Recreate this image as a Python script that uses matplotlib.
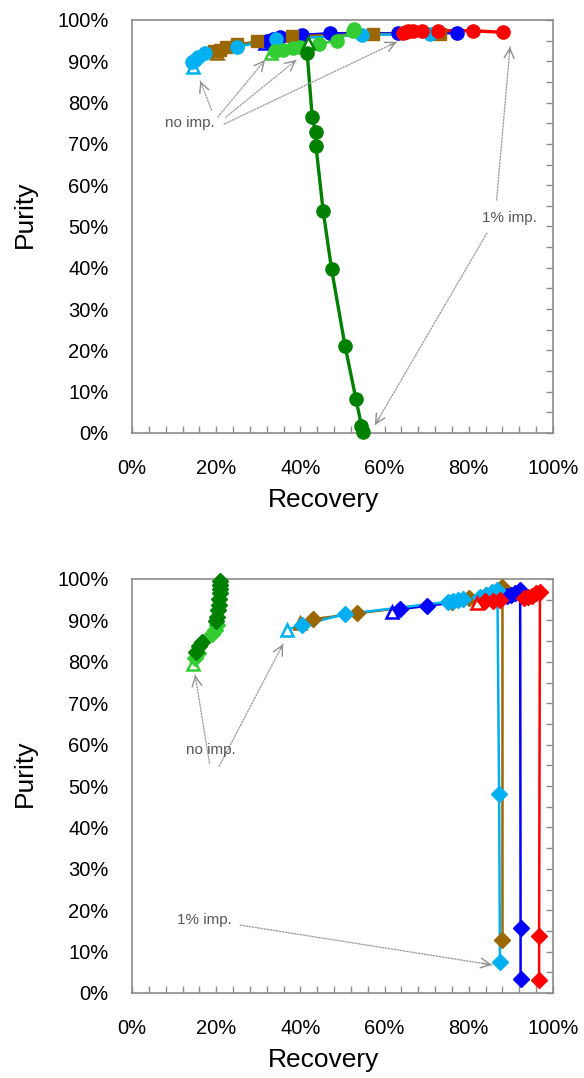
import matplotlib
matplotlib.use("Agg")
import matplotlib.pyplot as plt
from matplotlib.ticker import MultipleLocator, FuncFormatter

plt.rcParams['font.family'] = ['Liberation Sans', 'DejaVu Sans']

# ---------------- Top chart (circles / squares) ----------------
top_blue_tri = (31.6, 94.4)
top_blue_x = [32.0, 33.5, 35.2, 38.0, 40.3, 47.0, 63.3, 77.1]
top_blue_y = [95.0, 95.3, 95.8, 96.0, 96.4, 96.8, 96.8, 96.8]

top_brown_tri = (20.1, 91.9)
top_brown_x = [19.5, 21.0, 22.3, 25.0, 29.7, 37.9, 57.3, 73.2]
top_brown_y = [92.4, 92.8, 93.5, 94.1, 94.8, 96.1, 96.6, 96.6]

top_lblue_tri = (14.6, 88.6)
top_lblue_x = [14.3, 15.0, 15.7, 17.3, 24.9, 34.2, 54.6, 70.8]
top_lblue_y = [89.9, 90.4, 91.1, 91.9, 93.5, 95.3, 96.4, 96.6]

top_lgreen_tri = (33.0, 92.0)
top_lgreen_x = [34.0, 35.9, 38.3, 40.0, 44.3, 48.6, 52.4, 52.8]
top_lgreen_y = [92.5, 92.8, 93.1, 93.5, 94.2, 95.0, 97.3, 97.9]

top_dgreen_tri = (41.9, 94.4)
top_dgreen_x = [41.6, 42.8, 43.6, 43.7, 45.4, 47.4, 50.6, 53.2, 54.5, 54.9]
top_dgreen_y = [92.1, 76.5, 72.9, 69.5, 53.8, 39.7, 21.1, 8.2, 1.8, 0.3]

top_red_x = [64.4, 65.0, 65.6, 66.8, 68.8, 72.8, 81.1, 88.2]
top_red_y = [96.9, 97.1, 97.3, 97.3, 97.4, 97.4, 97.4, 97.0]

# ---------------- Bottom chart (diamonds) ----------------
bot_lgreen_tri = (14.6, 79.5)
bot_lgreen_x = [14.9, 15.6, 19.0, 19.8, 20.3]
bot_lgreen_y = [81.0, 82.2, 86.8, 87.8, 89.0]

bot_dgreen_x = [15.2, 15.8, 16.6, 19.9, 20.2, 20.4, 20.6, 20.7, 20.8, 20.9, 20.9, 20.9]
bot_dgreen_y = [82.4, 83.8, 84.9, 89.8, 90.8, 92.5, 93.8, 95.2, 96.5, 97.6, 98.6, 99.4]

bot_brown_tri = (39.9, 89.3)
bot_brown_x = [43.1, 53.4, 76.0, 80.0, 84.0, 88.0, 88.0]
bot_brown_y = [90.3, 91.7, 94.5, 95.3, 96.2, 98.1, 12.8]

bot_lblue_tri = (36.7, 87.7)
bot_lblue_x = [40.3, 50.6, 75.1, 76.3, 77.5, 78.7, 82.7, 84.2, 85.5, 86.8, 87.2, 87.4]
bot_lblue_y = [88.9, 91.5, 94.5, 94.7, 95.0, 95.2, 95.7, 96.2, 96.8, 97.3, 48.1, 7.6]

bot_blue_tri = (61.7, 92.1)
bot_blue_x = [63.7, 70.0, 89.0, 90.0, 91.0, 92.2, 92.3, 92.3]
bot_blue_y = [92.7, 93.5, 95.9, 96.2, 96.5, 97.3, 15.8, 3.5]

bot_red_tri = (81.9, 94.1)
bot_red_x = [83.8, 85.8, 87.5, 93.0, 94.0, 95.0, 96.0, 96.9, 96.7, 96.7]
bot_red_y = [94.6, 94.8, 95.0, 95.5, 95.7, 96.0, 96.5, 96.9, 13.8, 3.1]

# ---------------- Annotations ----------------
top_noimp_text = (13.8, 75.0)
top_noimp_arrows = [((18.9, 78.2), (16.2, 85.2)),
                    ((20.4, 76.5), (31.6, 90.3)),
                    ((22.3, 76.5), (39.0, 90.3)),
                    ((21.9, 74.8), (62.9, 94.7))]
top_imp_text = (89.6, 52.0)
top_imp_arrows = [((86.6, 56.4), (89.8, 93.5)),
                  ((84.3, 48.4), (57.7, 1.9))]

bot_noimp_text = (18.8, 58.7)
bot_noimp_arrows = [((18.4, 55.5), (15.0, 76.8)),
                    ((20.7, 54.8), (35.9, 84.3))]
bot_imp_text = (17.3, 17.6)
bot_imp_arrows = [((25.7, 16.4), (85.5, 6.8))]

C_BLUE = '#0000FF'
C_RED = '#FF0000'
C_DGREEN = '#008000'
C_LGREEN = '#33CC33'
C_LBLUE = '#00B0F0'
C_BROWN = '#996600'
FRAME = '#8C8C8C'
ANN = '#595959'

fig = plt.figure(figsize=(5.84, 10.78), dpi=100)
ax1 = fig.add_axes([132/584, 1-433/1078, 421/584, 413/1078])
ax2 = fig.add_axes([132/584, 1-993/1078, 421/584, 414/1078])


def style(ax):
    ax.set_xlim(0, 100)
    ax.set_ylim(0, 100)
    for s in ax.spines.values():
        s.set_color(FRAME)
        s.set_linewidth(1.2)
    ax.xaxis.set_major_locator(MultipleLocator(20))
    ax.xaxis.set_minor_locator(MultipleLocator(4))
    ax.yaxis.set_major_locator(MultipleLocator(10))
    ax.yaxis.set_minor_locator(MultipleLocator(5))
    fmt = FuncFormatter(lambda v, p: f"{v:.0f}%")
    ax.xaxis.set_major_formatter(fmt)
    ax.yaxis.set_major_formatter(fmt)
    ax.tick_params(axis='x', which='both', direction='in', bottom=True, top=False,
                   length=5, width=1, color=FRAME)
    ax.tick_params(axis='x', which='major', labelsize=14.5, pad=19)
    ax.tick_params(axis='y', which='both', direction='in', left=False, right=True,
                   labelleft=True, labelright=False, length=5, width=1, color=FRAME)
    ax.tick_params(axis='y', which='major', labelsize=14.5, pad=17)
    ax.set_xlabel('Recovery', fontsize=19, va='center')
    ax.set_ylabel('Purity', fontsize=19, va='center')
    ax.xaxis.set_label_coords(0.455, -0.162)
    ax.yaxis.set_label_coords(-0.254, 0.53)


def series(ax, tri, xs, ys, color, marker, ms, lw=1.8, tri_ms=9):
    if tri is not None:
        px = [tri[0]] + list(xs)
        py = [tri[1]] + list(ys)
        ax.plot(px, py, color=color, lw=lw, zorder=2)
        ax.plot([tri[0]], [tri[1]], linestyle='none', marker='^', ms=tri_ms,
                mfc='white', mec=color, mew=1.8, zorder=3, clip_on=False)
    else:
        ax.plot(xs, ys, color=color, lw=lw, zorder=2)
    ax.plot(xs, ys, linestyle='none', marker=marker, ms=ms, mfc=color, mec=color,
            zorder=3, clip_on=False)


def arrows(ax, text_pos, text, arrow_list):
    ax.text(text_pos[0], text_pos[1], text, fontsize=11, color=ANN,
            ha='center', va='center', zorder=5)
    for start, end in arrow_list:
        ax.annotate('', xy=end, xytext=start,
                    arrowprops=dict(arrowstyle='-', color='#A0A0A0', lw=1.0,
                                    linestyle=(0, (1, 1.2)), shrinkA=0, shrinkB=0),
                    zorder=4)
        near = (end[0] + (start[0] - end[0]) * 0.04, end[1] + (start[1] - end[1]) * 0.04)
        ax.annotate('', xy=end, xytext=near,
                    arrowprops=dict(arrowstyle='->,head_length=0.7,head_width=0.35',
                                    color='#909090', lw=1.0,
                                    shrinkA=0, shrinkB=0),
                    zorder=4)


style(ax1)
series(ax1, top_blue_tri, top_blue_x, top_blue_y, C_BLUE, 'o', 9.5)
series(ax1, top_brown_tri, top_brown_x, top_brown_y, C_BROWN, 's', 9.0)
series(ax1, top_lblue_tri, top_lblue_x, top_lblue_y, C_LBLUE, 'o', 9.5)
series(ax1, top_lgreen_tri, top_lgreen_x, top_lgreen_y, C_LGREEN, 'o', 9.5)
series(ax1, top_dgreen_tri, top_dgreen_x, top_dgreen_y, C_DGREEN, 'o', 9.5, lw=2.4)
series(ax1, None, top_red_x, top_red_y, C_RED, 'o', 9.5, lw=2.4)
arrows(ax1, top_noimp_text, 'no imp.', top_noimp_arrows)
arrows(ax1, top_imp_text, '1% imp.', top_imp_arrows)

style(ax2)
series(ax2, bot_lgreen_tri, bot_lgreen_x, bot_lgreen_y, C_LGREEN, 'D', 8.0)
series(ax2, None, bot_dgreen_x, bot_dgreen_y, C_DGREEN, 'D', 8.0)
series(ax2, bot_brown_tri, bot_brown_x, bot_brown_y, C_BROWN, 'D', 8.0)
series(ax2, bot_blue_tri, bot_blue_x, bot_blue_y, C_BLUE, 'D', 8.0)
series(ax2, bot_lblue_tri, bot_lblue_x, bot_lblue_y, C_LBLUE, 'D', 8.0)
series(ax2, bot_red_tri, bot_red_x, bot_red_y, C_RED, 'D', 8.0)
arrows(ax2, bot_noimp_text, 'no imp.', bot_noimp_arrows)
arrows(ax2, bot_imp_text, '1% imp.', bot_imp_arrows)

fig.savefig('out.png', dpi=100)
